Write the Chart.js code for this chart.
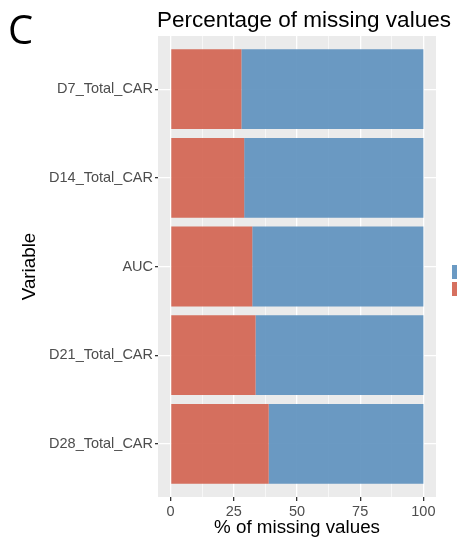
<!DOCTYPE html>
<html>
<head>
<meta charset="utf-8">
<script src="https://cdn.jsdelivr.net/npm/chart.js@4.4.1/dist/chart.umd.min.js"></script>
<style>
  html, body { margin: 0; padding: 0; background: #ffffff; overflow: hidden; }
  #wrap { width: 457px; height: 542px; position: relative; }
</style>
</head>
<body>
<div id="wrap"><canvas id="chart" width="457" height="542"></canvas></div>
<script>
// Variables, listed top to bottom
const categories = ['D7_Total_CAR', 'D14_Total_CAR', 'AUC', 'D21_Total_CAR', 'D28_Total_CAR'];
// Share of missing values (%) per variable
const missingPct = [28.0, 29.1, 32.3, 33.6, 38.8];
// Share of present values (%) per variable
const presentPct = [72.0, 70.9, 67.7, 66.4, 61.2];
// Major x ticks
const xTicks = [0, 25, 50, 75, 100];

const RED = 'rgba(211,100,81,0.92)';
const BLUE = 'rgba(94,145,190,0.92)';
const PANEL_BG = '#EBEBEB';
const TICK_TEXT = '#4D4D4D';
const SANS = '"Liberation Sans", Arial, Helvetica, sans-serif';

const toPoints = arr => arr.map((v, i) => ({ x: v, y: i }));

// Grey panel behind the plotting area
const panelBackground = {
  id: 'panelBackground',
  beforeDraw(chart) {
    const { ctx, chartArea: a } = chart;
    ctx.save();
    ctx.fillStyle = PANEL_BG;
    ctx.fillRect(a.left, a.top, a.right - a.left, a.bottom - a.top);
    ctx.restore();
  }
};

// Panel letter, title and legend keys
const decorations = {
  id: 'decorations',
  afterDraw(chart) {
    const { ctx, chartArea: a } = chart;
    ctx.save();
    ctx.fillStyle = '#000000';
    ctx.textBaseline = 'alphabetic';
    ctx.textAlign = 'left';
    ctx.font = '40px "Open Sans", "DejaVu Sans", sans-serif';
    ctx.fillText('C', 8, 44);

    ctx.font = '22.5px ' + SANS;
    ctx.fillText('Percentage of missing values', a.left - 1, 27);

    // legend keys (present on top, missing below)
    const keyX = 452, keySize = 14;
    ctx.fillStyle = BLUE;
    ctx.fillRect(keyX, 265, keySize, keySize);
    ctx.fillStyle = RED;
    ctx.fillRect(keyX, 282, keySize, keySize);
    ctx.restore();
  }
};

const isMajor = v => xTicks.includes(Math.round(v * 10) / 10);

new Chart(document.getElementById('chart'), {
  type: 'bar',
  data: {
    datasets: [
      {
        label: 'Missing',
        data: toPoints(missingPct),
        backgroundColor: RED,
        borderWidth: 0,
        barPercentage: 0.9,
        categoryPercentage: 1.0
      },
      {
        label: 'Present',
        data: toPoints(presentPct),
        backgroundColor: BLUE,
        borderWidth: 0,
        barPercentage: 0.9,
        categoryPercentage: 1.0
      }
    ]
  },
  options: {
    indexAxis: 'y',
    responsive: false,
    animation: false,
    devicePixelRatio: 1,
    layout: { padding: { top: 36, right: 21, bottom: 0, left: 0 } },
    plugins: {
      legend: { display: false },
      tooltip: { enabled: false },
      title: { display: false }
    },
    scales: {
      x: {
        type: 'linear',
        stacked: true,
        min: -5,
        max: 105,
        afterBuildTicks(scale) {
          const t = [];
          for (let v = 0; v <= 100; v += 12.5) t.push({ value: v });
          scale.ticks = t;
        },
        afterFit(scale) { scale.height = 45; },
        border: { display: false },
        grid: {
          color: '#FFFFFF',
          lineWidth: ctx => (ctx.tick && isMajor(ctx.tick.value)) ? 1.3 : 0.6,
          tickColor: ctx => (ctx.tick && isMajor(ctx.tick.value)) ? '#333333' : 'rgba(0,0,0,0)',
          tickLength: 4,
          drawOnChartArea: true
        },
        ticks: {
          autoSkip: false,
          maxRotation: 0,
          padding: 2,
          color: TICK_TEXT,
          font: { family: SANS, size: 14.5 },
          callback: v => isMajor(v) ? String(Math.round(v)) : ''
        },
        title: {
          display: true,
          text: '% of missing values',
          color: '#000000',
          font: { family: SANS, size: 18.8 },
          padding: { top: 0, bottom: 3 }
        }
      },
      y: {
        type: 'linear',
        stacked: true,
        reverse: true,
        offset: false,
        min: -0.6,
        max: 4.6,
        afterBuildTicks(scale) {
          scale.ticks = categories.map((c, i) => ({ value: i }));
        },
        afterFit(scale) { scale.width = 158; },
        border: { display: false },
        grid: {
          offset: false,
          color: '#FFFFFF',
          lineWidth: 1.3,
          tickColor: '#333333',
          tickLength: 3
        },
        ticks: {
          autoSkip: false,
          padding: 2,
          color: TICK_TEXT,
          font: { family: SANS, size: 14.5 },
          callback: v => categories[Math.round(v)]
        },
        title: {
          display: true,
          text: 'Variable',
          color: '#000000',
          font: { family: SANS, size: 18.8 },
          padding: { top: 19, bottom: 0 }
        }
      }
    }
  },
  plugins: [panelBackground, decorations]
});
</script>
</body>
</html>
